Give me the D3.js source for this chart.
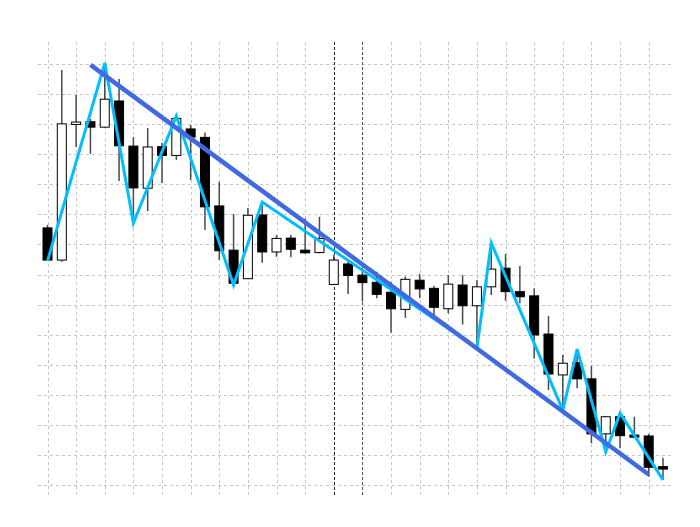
<!DOCTYPE html>
<html>
<head>
<meta charset="utf-8">
<script src="https://cdn.jsdelivr.net/npm/d3@7/dist/d3.min.js"></script>
<style>
  html, body { margin: 0; padding: 0; background: #ffffff; }
  svg { display: block; }
</style>
</head>
<body>
<div id="chart"></div>
<script>
// ---- DATA ----
// OHLC values per bar (bar index = position in array)
const opens  = [95.5, 84.8, 129.9, 130.8, 129.0, 137.7, 122.7, 108.7, 122.5, 119.6,
                128.4, 125.6, 102.8, 88.1, 78.6, 99.8, 87.5, 92.1, 88.1, 87.3,
                76.7, 83.5, 79.8, 77.4, 74.1, 68.4, 78.1, 75.4, 68.6, 76.5,
                69.6, 75.9, 82.1, 74.3, 72.9, 60.2, 46.6, 50.7, 45.3, 27.0,
                32.7, 26.6, 26.3, 16.1];
const highs  = [96.5, 148.0, 139.7, 131.7, 150.3, 145.0, 125.7, 128.7, 123.7, 132.7,
                129.7, 127.2, 110.8, 100.1, 102.1, 104.1, 93.1, 93.1, 98.6, 99.2,
                86.5, 84.2, 81.5, 80.9, 77.6, 79.3, 80.2, 76.2, 79.8, 79.8,
                78.2, 90.5, 86.8, 82.8, 75.4, 66.2, 53.2, 55.2, 49.6, 32.9,
                33.9, 32.7, 27.0, 19.1];
const lows   = [84.5, 84.2, 122.4, 120.1, 128.9, 111.1, 97.1, 101.1, 110.4, 118.1,
                111.4, 94.8, 84.8, 76.5, 78.5, 83.9, 85.9, 85.7, 87.0, 87.0,
                76.5, 73.5, 71.0, 72.1, 60.6, 65.6, 72.1, 65.8, 67.1, 63.4,
                55.6, 73.2, 71.3, 70.4, 52.1, 41.6, 34.9, 42.2, 23.9, 21.0,
                22.2, 25.8, 12.8, 11.7];
const closes = [84.8, 130.1, 130.7, 129.0, 138.3, 122.8, 108.8, 122.4, 119.6, 131.9,
                125.7, 102.5, 87.9, 77.1, 99.7, 87.5, 92.0, 88.4, 87.2, 92.0,
                84.8, 79.7, 77.3, 73.4, 68.6, 78.4, 75.2, 69.1, 76.8, 69.6,
                75.9, 81.8, 74.3, 72.6, 59.9, 46.9, 50.5, 45.3, 27.0, 32.7,
                26.4, 25.9, 15.9, 15.3];

// ZigZag pivots: [bar index, "high" | "low"]
const zigzagPivots = [[0, "low"], [4, "high"], [6, "low"], [9, "high"], [13, "low"],
                      [15, "high"], [30, "low"], [31, "high"], [36, "low"], [37, "high"],
                      [39, "low"], [40, "high"], [43, "low"]];

// Trend line end points: [bar index, value]
const trendLine = [[3, 149.7], [42, 13.5]];

// Horizontal grid levels and vertical grid bars
const priceLevels = d3.range(10, 151, 10);
const gridBars = d3.range(0, 43, 2);
// Highlighted (dark dotted) vertical separators at bar indices
const markerBars = [20, 22];

// ---- CHART ----
const W = 700, H = 527;
const svg = d3.select("#chart").append("svg").attr("width", W).attr("height", H);

const x = d3.scaleLinear().domain([0, opens.length - 1]).range([47.5, 663]);
const y = d3.scaleLinear().domain([10, 150]).range([485, 64]);

const gridLeft = 38, gridRight = 672, gridTop = 42, gridBottom = 497;

// grid
const g = svg.append("g");
g.selectAll("line.h").data(priceLevels).enter().append("line")
  .attr("x1", gridLeft).attr("x2", gridRight)
  .attr("y1", d => Math.round(y(d)) + 0.5).attr("y2", d => Math.round(y(d)) + 0.5)
  .attr("stroke", "#c6c6c6").attr("stroke-width", 1).attr("stroke-dasharray", "3,3");
g.selectAll("line.v").data(gridBars.filter(b => !markerBars.includes(b))).enter().append("line")
  .attr("y1", gridTop).attr("y2", gridBottom)
  .attr("x1", d => Math.round(x(d)) + 0.5).attr("x2", d => Math.round(x(d)) + 0.5)
  .attr("stroke", "#c6c6c6").attr("stroke-width", 1).attr("stroke-dasharray", "3,3");
g.selectAll("line.m").data(markerBars).enter().append("line")
  .attr("y1", gridTop).attr("y2", gridBottom)
  .attr("x1", d => Math.round(x(d)) + 0.5).attr("x2", d => Math.round(x(d)) + 0.5)
  .attr("stroke", (d, i) => i === 0 ? "#222" : "#555").attr("stroke-width", 1)
  .attr("stroke-dasharray", "3,2");

// candles
const bars = opens.map((o, i) => ({ i, o, h: highs[i], l: lows[i], c: closes[i] }));
const cg = svg.append("g");
const bw = 9;
cg.selectAll("line.wick").data(bars).enter().append("line")
  .attr("x1", d => x(d.i)).attr("x2", d => x(d.i))
  .attr("y1", d => y(d.h)).attr("y2", d => y(d.l))
  .attr("stroke", "#4a4a4a").attr("stroke-width", 1.5);
cg.selectAll("rect.body").data(bars).enter().append("rect")
  .attr("x", d => x(d.i) - bw / 2)
  .attr("y", d => y(Math.max(d.o, d.c)))
  .attr("width", bw)
  .attr("height", d => Math.max(1, y(Math.min(d.o, d.c)) - y(Math.max(d.o, d.c))))
  .attr("fill", d => d.c >= d.o ? "#ffffff" : "#000000")
  .attr("stroke", "#000").attr("stroke-width", 1);

// zigzag
const zz = zigzagPivots.map(([i, k]) => [x(i), y(k === "high" ? highs[i] : lows[i])]);
svg.append("path").attr("d", d3.line()(zz))
  .attr("fill", "none").attr("stroke", "#00BFFF").attr("stroke-width", 3)
  .attr("stroke-linejoin", "miter");

// trend line
svg.append("path").attr("d", d3.line()(trendLine.map(([i, v]) => [x(i), y(v)])))
  .attr("fill", "none").attr("stroke", "#4169E1").attr("stroke-width", 4.5);
</script>
</body>
</html>
